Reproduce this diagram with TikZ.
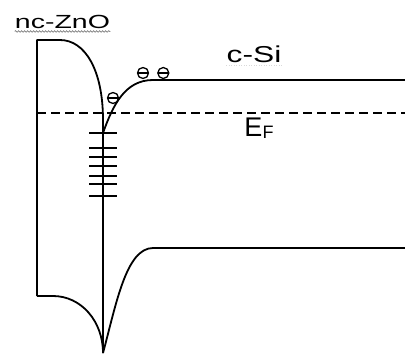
\documentclass[tikz,border=0pt]{standalone}
\usepackage{fontspec}
\setmainfont{Liberation Sans}
\usetikzlibrary{positioning}
\usetikzlibrary{decorations.pathmorphing}
\tikzset{
	band/.style = {line width=1.8pt, line join=round},
	level/.style = {line width=2pt},
	fermi/.style = {line width=1.5pt, dash pattern=on 9pt off 5pt},
	elec/.style = {circle, draw, line width=1.3pt, minimum size=11pt, inner sep=0pt,
		path picture={\draw[line width=1.3pt] (path picture bounding box.west) -- (path picture bounding box.east);}},
	lbl/.style = {inner sep=0pt, transform shape},
	squiggle/.style = {gray, line width=0.7pt},
}

\begin{document}
\begin{tikzpicture}[x=1pt, y=-1pt]
	\useasboundingbox (0,0) rectangle (405,354);
	% nc-ZnO side
	\draw[band] (37,296) -- (37,40) -- (60,40) .. controls (85,40) and (103,70) .. (103,120) -- (103,353);
	\draw[band] (37,296) -- (53,296) .. controls (81,296) and (103,321) .. (103,353);
	% c-Si side
	\draw[band] (103,133) .. controls (113,105) and (125,80) .. (153,80) -- (405,80);
	\draw[band] (103,353) .. controls (116,305) and (126,248) .. (153,248) -- (405,248);
	\draw[fermi] (37,113) -- (405,113);
	% interface states
	\foreach \y in {133,148,157,166,176,184,196}
		\draw[level] (89,\y) -- (117,\y);
	\node (e1) [elec] at (113,98) {};
	\node (e2) [elec] at (143,73) {};
	\node (e3) [elec, right = 8pt of e2] {};
	\node (zno) [lbl, xscale=1.5, font=\fontsize{19}{19}\selectfont] at (62.5,22) {nc-ZnO};
	\node (si) [lbl, xscale=1.38, font=\fontsize{23}{23}\selectfont] at (254,54) {c-Si};
	\node (ef) [lbl, font=\fontsize{27}{27}\selectfont] at (259,128) {E\raisebox{-2pt}{\fontsize{18}{18}\selectfont F}};
	\draw[squiggle, decorate, decoration={snake, amplitude=0.8pt, segment length=3pt}]
		([yshift=-2.5pt]zno.south west) -- ([yshift=-2.5pt]zno.south east);
	\draw[gray!30, dotted, line width=0.5pt] ([yshift=-3pt]si.south west) -- ([yshift=-3pt]si.south east);
\end{tikzpicture}
\end{document}
